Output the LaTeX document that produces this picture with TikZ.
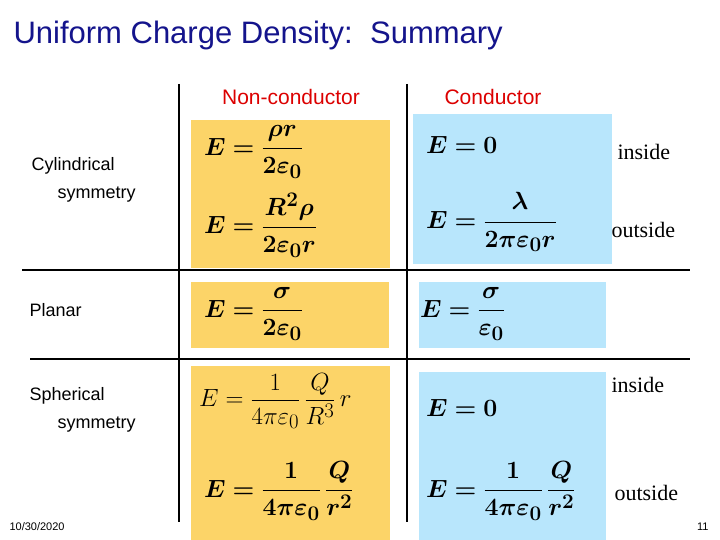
\documentclass[tikz,border=0pt]{standalone}
\usepackage{amsmath,bm}
\usepackage{fontspec}
\setsansfont{Liberation Sans}
\setmainfont{Liberation Serif}
\definecolor{ttl}{RGB}{20,20,140}
\definecolor{yel}{RGB}{252,212,104}
\definecolor{blu}{RGB}{184,230,252}
\definecolor{hdr}{RGB}{220,0,0}
\tikzset{
  ybox/.style={fill=yel,draw=none},
  bbox/.style={fill=blu,draw=none},
  rule/.style={line width=2.5pt,black},
  rowlbl/.style={font=\sffamily\fontsize{18}{22}\selectfont,anchor=west,align=left},
  side/.style={font=\rmfamily\fontsize{22}{24}\selectfont,anchor=west},
  eq/.style={font=\fontsize{31}{34}\selectfont,anchor=west,inner sep=0pt}
}
\begin{document}
\begin{tikzpicture}[x=1pt,y=-1pt]
\useasboundingbox (0,0) rectangle (720,540);
\fill[white] (0,0) rectangle (720,540);
\node[anchor=west,font=\sffamily\fontsize{31}{34}\selectfont,text=ttl] (title) at (10,35) {Uniform Charge Density:~~Summary};
\node[font=\sffamily\fontsize{21}{24}\selectfont,text=hdr] (h1) at (291,97) {Non-conductor};
\node[font=\sffamily\fontsize{21}{24}\selectfont,text=hdr] (h2) at (493,97) {Conductor};
% boxes
\fill[ybox] (191,120) rectangle (390,268);
\fill[ybox] (191,282) rectangle (389,348);
\fill[ybox] (191,366) rectangle (390,540);
\fill[bbox] (413,114) rectangle (612,264);
\fill[bbox] (419,282) rectangle (606,348);
\fill[bbox] (419,372) rectangle (606,540);
% rules
\coordinate (v1a) at (179,84); \coordinate (v1b) at (179,522);
\coordinate (v2a) at (407,84); \coordinate (v2b) at (407,522);
\coordinate (h1a) at (22,270); \coordinate (h1b) at (690,270);
\coordinate (h2a) at (30,359); \coordinate (h2b) at (690,359);
\draw[rule] (v1a) -- (v1b);
\draw[rule] (v2a) -- (v2b);
\draw[rule] (h1a) -- (h1b);
\draw[rule] (h2a) -- (h2b);
% row labels
\node[rowlbl] (c1) at (28,166) {Cylindrical};
\node[rowlbl] (c2) at (54,195) {symmetry};
\node[rowlbl] (p) at (26,310) {Planar};
\node[rowlbl] (s1) at (26,396) {Spherical};
\node[rowlbl] (s2) at (54,425) {symmetry};
% side labels
\node[side] (i1) at (614,152) {inside};
\node[side] (o1) at (608,230) {outside};
\node[side] (i2) at (608,385) {inside};
\node[side] (o2) at (611,493) {outside};
% equations
\node[eq] (e1) at (204,152) {$\boldsymbol{E=\dfrac{\rho r}{2\varepsilon_0}}$};
\node[eq] (e2) at (204,225) {$\boldsymbol{E=\dfrac{R^2\rho}{2\varepsilon_0 r}}$};
\node[eq] (e3) at (204,314) {$\boldsymbol{E=\dfrac{\sigma}{2\varepsilon_0}}$};
\node[eq] (e4) at (199,401) {$E=\dfrac{1}{4\pi\varepsilon_0}\,\dfrac{Q}{R^3}\,r$};
\node[eq] (e5) at (204,491) {$\boldsymbol{E=\dfrac{1}{4\pi\varepsilon_0}\,\dfrac{Q}{r^2}}$};
\node[eq] (e6) at (426,145) {$\boldsymbol{E=0}$};
\node[eq] (e7) at (426,222) {$\boldsymbol{E=\dfrac{\lambda}{2\pi\varepsilon_0 r}}$};
\node[eq] (e8) at (420,314) {$\boldsymbol{E=\dfrac{\sigma}{\varepsilon_0}}$};
\node[eq] (e9) at (426,408) {$\boldsymbol{E=0}$};
\node[eq] (e10) at (426,491) {$\boldsymbol{E=\dfrac{1}{4\pi\varepsilon_0}\,\dfrac{Q}{r^2}}$};
% footer
\node[anchor=west,font=\sffamily\fontsize{11}{13}\selectfont] (date) at (6,527) {10/30/2020};
\node[anchor=east,font=\sffamily\fontsize{11}{13}\selectfont] (pg) at (712,527) {11};
\end{tikzpicture}
\end{document}
